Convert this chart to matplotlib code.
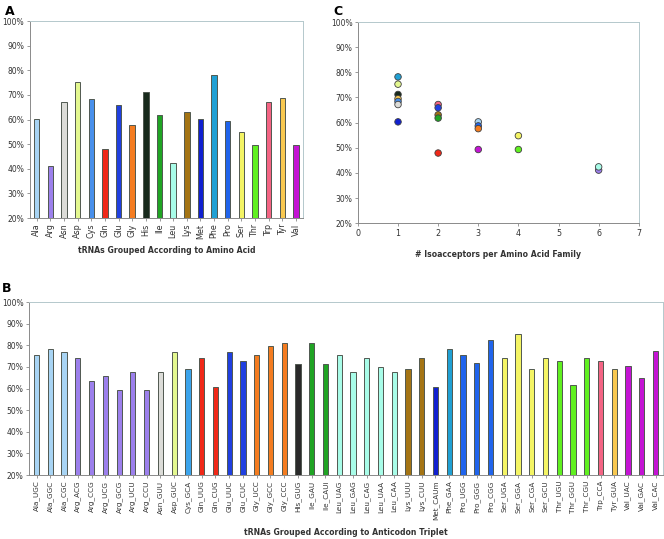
import numpy as np
import matplotlib
matplotlib.use("Agg")
from matplotlib import pyplot as plt

# panel A: amino acid families
aa = ["Ala", "Arg", "Asn", "Asp", "Cys", "Gln", "Glu", "Gly", "His", "Ile",
      "Leu", "Lys", "Met", "Phe", "Pro", "Ser", "Thr", "Trp", "Tyr", "Val"]
aa_vals = [60.3, 41.2, 67.2, 75.3, 68.5, 48.0, 65.8, 57.6, 71.2, 61.7,
           42.5, 63.2, 60.4, 78.2, 59.2, 55.0, 49.5, 67.3, 68.7, 49.6]
aa_cols = {"Ala": "#a8d4f4", "Arg": "#9c80ec", "Asn": "#dcdcd8", "Asp": "#e4f890",
           "Cys": "#4890ec", "Gln": "#f02818", "Glu": "#2040e0", "Gly": "#f47c20",
           "His": "#182a1c", "Ile": "#20a424", "Leu": "#a8fce8", "Lys": "#a47414",
           "Met": "#1020d0", "Phe": "#20a0d4", "Pro": "#2064ec", "Ser": "#f4f464",
           "Thr": "#60f020", "Trp": "#f46484", "Tyr": "#f8c850", "Val": "#c414d4"}

# panel B: anticodons
codons = ["Ala_UGC", "Ala_GGC", "Ala_CGC", "Arg_ACG", "Arg_CCG", "Arg_UCG", "Arg_GCG",
          "Arg_UCU", "Arg_CCU", "Asn_GUU", "Asp_GUC", "Cys_GCA", "Gln_UUG", "Gln_CUG",
          "Glu_UUC", "Glu_CUC", "Gly_UCC", "Gly_GCC", "Gly_CCC", "His_GUG", "Ile_GAU",
          "Ile_CAUi", "Leu_UAG", "Leu_GAG", "Leu_CAG", "Leu_UAA", "Leu_CAA", "Lys_UUU",
          "Lys_CUU", "Met_CAUm", "Phe_GAA", "Pro_UGG", "Pro_GGG", "Pro_CGG", "Ser_UGA",
          "Ser_GGA", "Ser_CGA", "Ser_GCU", "Thr_UGU", "Thr_GGU", "Thr_CGU", "Trp_CCA",
          "Tyr_GUA", "Val_UAC", "Val_GAC", "Val_CAC"]
codon_vals = [75.5, 78.2, 76.9, 74.2, 63.3, 65.9, 59.1, 67.5, 59.1, 67.5,
              76.9, 68.8, 74.2, 60.5, 76.9, 72.9, 75.5, 79.5, 80.9, 71.5,
              80.9, 71.5, 75.6, 67.5, 74.2, 70.1, 67.5, 68.8, 74.2, 60.5,
              78.4, 75.6, 71.6, 82.4, 74.2, 85.2, 68.8, 74.2, 72.9, 61.8,
              74.2, 72.9, 68.8, 70.2, 64.7, 77.2]

# panel C: isoacceptors per family
sc_aa = ["Phe", "Asp", "His", "Tyr", "Cys", "Asn", "Met",
         "Trp", "Glu", "Lys", "Ile", "Gln",
         "Ala", "Pro", "Gly", "Val",
         "Ser", "Thr",
         "Arg", "Leu"]
sc_iso = [1, 1, 1, 1, 1, 1, 1, 2, 2, 2, 2, 2, 3, 3, 3, 3, 4, 4, 6, 6]
sc_vals = [78.2, 75.3, 71.2, 69.5, 68.4, 67.2, 60.3,
           67.2, 65.9, 63.1, 61.8, 47.9,
           60.3, 58.7, 57.6, 49.3,
           54.8, 49.3,
           41.1, 42.4]

plt.rcParams['font.family'] = ['DejaVu Sans']
txt = "#333333"


def style(ax, xfs):
    ax.set_ylim(20, 100)
    ax.set_yticks(np.arange(20, 101, 10))
    ax.set_yticklabels(["%d%%" % v for v in range(20, 101, 10)])
    ax.tick_params(axis="y", labelsize=5.5, colors=txt, length=2.5, width=0.6, pad=1.5)
    ax.tick_params(axis="x", labelsize=xfs, colors=txt, length=2.5, width=0.6, pad=1.5)
    ax.tick_params(axis="both", color="#888888")
    for s in ["left", "bottom"]:
        ax.spines[s].set_color("#8a8a8a")
        ax.spines[s].set_linewidth(0.7)
    for s in ["top", "right"]:
        ax.spines[s].set_color("#b4c8cc")
        ax.spines[s].set_linewidth(0.7)


fig = plt.figure(figsize=(6.64, 5.39), dpi=100)

# A
axA = fig.add_axes([0.045, 0.5955, 0.411, 0.3655])
x = np.arange(len(aa))
axA.bar(x, [v - 20 for v in aa_vals], bottom=20, width=0.4,
        color=[aa_cols[a] for a in aa], edgecolor="#505850", linewidth=0.7)
axA.set_xlim(-0.5, len(aa) - 0.5)
axA.set_xticks(x)
axA.set_xticklabels(aa, rotation=90)
style(axA, 5.8)
axA.set_xlabel("tRNAs Grouped According to Amino Acid", fontsize=5.6,
               fontweight="bold", color=txt, labelpad=5)

# C
axC = fig.add_axes([0.539, 0.586, 0.423, 0.373])
axC.scatter(sc_iso, sc_vals, s=22, c=[aa_cols[a] for a in sc_aa],
            edgecolors="#404040", linewidths=0.6, zorder=3)
axC.set_xlim(0, 7)
axC.set_xticks(range(0, 8))
style(axC, 5.8)
axC.set_xlabel("# Isoacceptors per Amino Acid Family", fontsize=5.6,
               fontweight="bold", color=txt, labelpad=9)

# B
axB = fig.add_axes([0.0437, 0.1187, 0.955, 0.321])
xb = np.arange(len(codons))
bcols = []
for c in codons:
    a = c.split("_")[0]
    col = aa_cols[a]
    if a == "Cys":
        col = "#3ca4ec"
    if a == "His":
        col = "#2a2a2a"
    bcols.append(col)
axB.bar(xb, [v - 20 for v in codon_vals], bottom=20, width=0.38,
        color=bcols, edgecolor="#505850", linewidth=0.7)
axB.set_xlim(-0.55, len(codons) - 0.45)
axB.set_xticks(xb)
axB.set_xticklabels(codons, rotation=90)
style(axB, 5.2)
axB.set_xlabel("tRNAs Grouped According to Anticodon Triplet", fontsize=5.6,
               fontweight="bold", color=txt, labelpad=6)

fig.text(0.008, 0.99, "A", fontsize=9, fontweight="bold", va="top")
fig.text(0.502, 0.99, "C", fontsize=9, fontweight="bold", va="top")
fig.text(0.003, 0.476, "B", fontsize=9, fontweight="bold", va="top")

fig.savefig("out.png", dpi=100)
